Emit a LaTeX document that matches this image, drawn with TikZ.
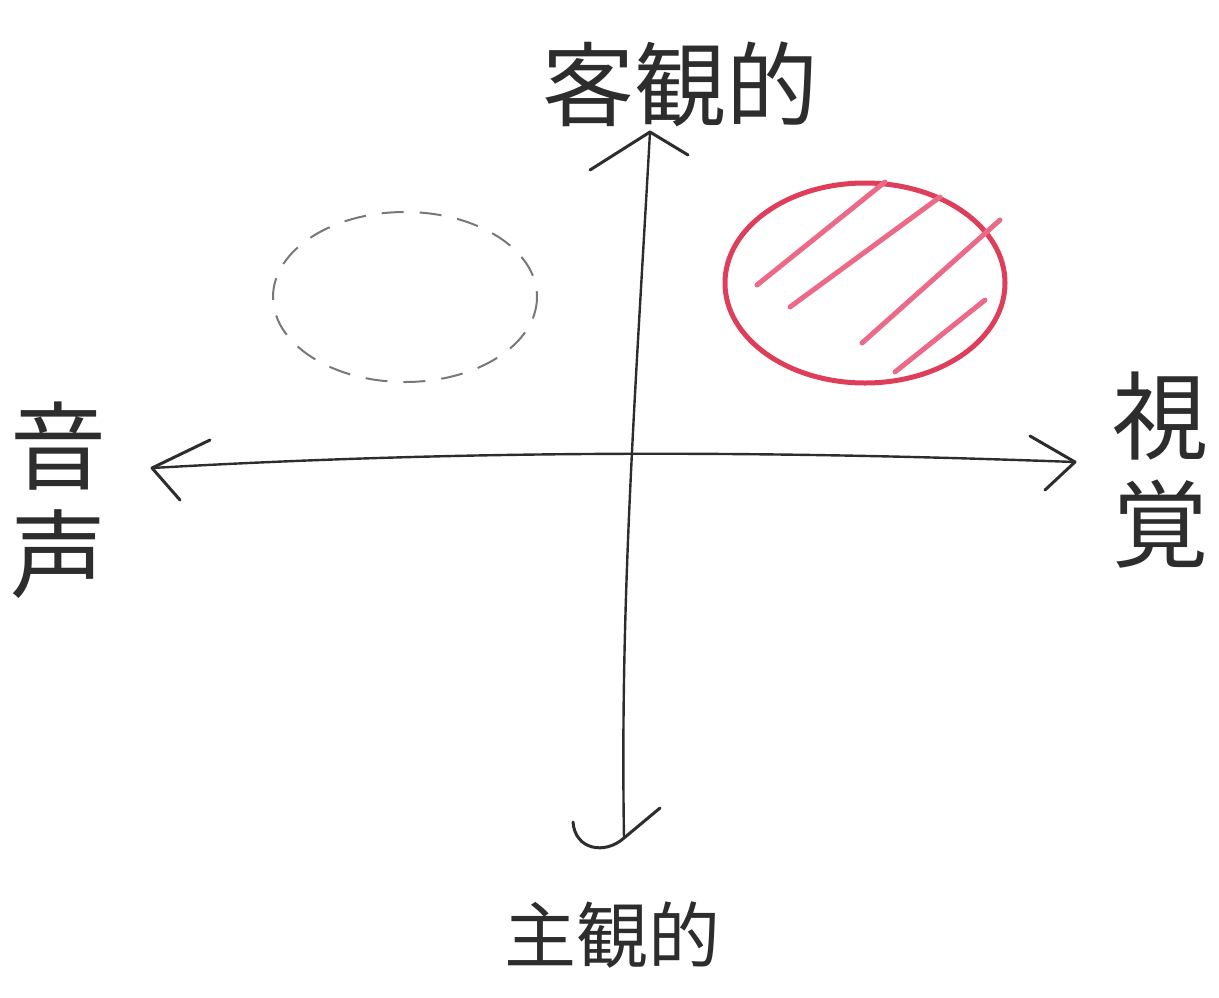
\documentclass[tikz,border=0pt]{standalone}
\usepackage{fontspec}
\newfontfamily\jp{Noto Sans CJK JP}
\usetikzlibrary{arrows.meta}
\definecolor{ink}{RGB}{45,45,45}
\definecolor{redpen}{RGB}{222,62,90}
\definecolor{pinkpen}{RGB}{236,105,135}
\definecolor{faint}{RGB}{120,120,120}
\tikzset{
  axis/.style={draw=ink, line width=2.4pt, line cap=round, line join=round},
  tipline/.style={draw=ink, line width=3pt, line cap=round, line join=round},
  lbl/.style={text=ink, inner sep=0pt},
  big/.style={lbl, font=\jp\fontsize{92}{96}\selectfont},
  small/.style={lbl, font=\jp\fontsize{72}{76}\selectfont},
  side/.style={lbl, font=\jp\fontsize{96}{100}\selectfont, align=center},
  redring/.style={draw=redpen, line width=5pt},
  hatch/.style={draw=pinkpen, line width=5pt, line cap=round},
  dashring/.style={draw=faint, line width=2pt, dash pattern=on 22pt off 16pt}
}
\begin{document}
\begin{tikzpicture}[x=1pt,y=-1pt]
\useasboundingbox (0,0) rectangle (1219,997);
% axes
\coordinate (L) at (152,468);
\coordinate (R) at (1075,462);
\coordinate (T) at (650,132);
\coordinate (B) at (624,838);
\draw[axis] (L) .. controls (500,448) and (800,452) .. (R);
\draw[axis] (T) .. controls (635,400) and (620,600) .. (B);
% arrowheads
\draw[tipline] (210,440) -- (L) -- (180,500);
\draw[tipline] (1030,436) -- (R) -- (1045,490);
\draw[tipline] (590,170) -- (T) -- (688,155);
\draw[tipline] (573,822) .. controls (575,850) and (605,855) .. (B) -- (660,808);
% labels
\node[big] (top) at (680,84) {客観的};
\node[small] (bottom) at (612,935) {主観的};
\node[side] (left) at (58,500) {音\\[8pt]声};
\node[side] (right) at (1160,470) {視\\[8pt]覚};
% dashed ellipse
\draw[dashring] (405,297) ellipse [x radius=132, y radius=85];
% red ring with hatching
\draw[redring] (865,283) ellipse [x radius=140, y radius=100];
\draw[hatch] (757,285) -- (885,182);
\draw[hatch] (790,307) -- (940,197);
\draw[hatch] (862,343) -- (1000,220);
\draw[hatch] (895,372) -- (985,300);
\end{tikzpicture}
\end{document}
